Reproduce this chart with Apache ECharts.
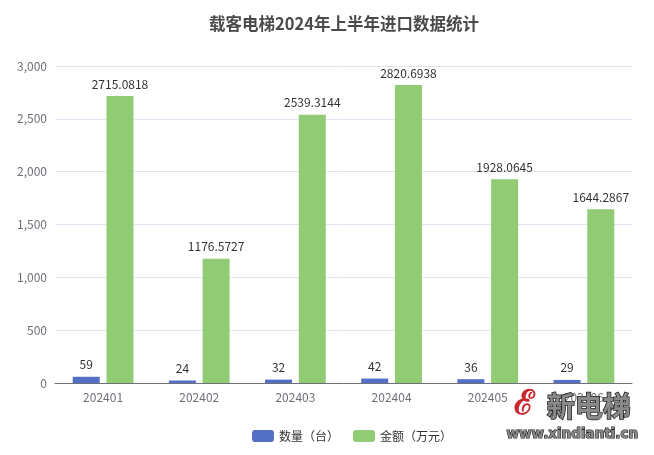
<!DOCTYPE html>
<html><head><meta charset="utf-8">
<script src="https://cdn.jsdelivr.net/npm/echarts@6/dist/echarts.min.js"></script>
<style>html,body{margin:0;padding:0;background:#fff}#c{width:654px;height:455px}</style>
</head><body><div id="c"></div>
<script>
const categories = ['202401','202402','202403','202404','202405','202406'];
const quantity = [59, 24, 32, 42, 36, 29];
const amount = [2715.0818, 1176.5727, 2539.3144, 2820.6938, 1928.0645, 1644.2867];
const seriesNames = ['数量（台）', '金额（万元）'];
const titleText = '载客电梯2024年上半年进口数据统计';
const yTicks = { min: 0, max: 3000, interval: 500 };

const FONT = "'Noto Sans CJK SC', 'Microsoft YaHei', sans-serif";
const chart = echarts.init(document.getElementById('c'));
chart.setOption({
  animation: false,
  textStyle: { fontFamily: FONT },
  title: { text: titleText, left: 204, top: 10, textStyle: { fontSize: 16.5, fontWeight: 'bold', color: '#4a4a4a', fontFamily: FONT } },
  legend: { left: 247, top: 425, itemWidth: 22, itemHeight: 12, itemGap: 14, textStyle: { color: '#333', fontSize: 12, fontFamily: FONT }, data: seriesNames },
  grid: { left: 55, right: 22, top: 66, bottom: 72 },
  xAxis: { type: 'category', data: categories, axisLine: { lineStyle: { color: '#6E7079' } }, axisLabel: { color: '#6E7079', fontSize: 12 } },
  yAxis: { type: 'value', min: yTicks.min, max: yTicks.max, interval: yTicks.interval,
    axisLabel: { color: '#6E7079', fontSize: 12, formatter: v => v.toLocaleString('en-US') },
    splitLine: { lineStyle: { color: '#E0E6F1' } } },
  series: [
    { name: seriesNames[0], type: 'bar', data: quantity, barWidth: 27, barGap: '25%', itemStyle: { color: '#5470c6' },
      label: { show: true, position: 'top', distance: 6, color: '#333', fontSize: 12 } },
    { name: seriesNames[1], type: 'bar', data: amount, barWidth: 27, itemStyle: { color: '#91cc75' },
      label: { show: true, position: 'top', distance: 6, color: '#333', fontSize: 12 } }
  ],
  graphic: [
    { type: 'text', left: 546, top: 392, z: 100, style: { text: '新电梯', fontSize: 28, fontWeight: 'bold', fontFamily: FONT, fill: '#8a8a8a', stroke: '#222', lineWidth: 1.5 } },
    { type: 'text', left: 506, top: 427, z: 100, style: { text: 'www.xindianti.cn', fontSize: 13.5, fontWeight: 'bold', fontFamily: 'DejaVu Sans', fill: '#888', stroke: '#222', lineWidth: 1.2 } },
    { type: 'text', left: 514, top: 388, z: 100, style: { text: 'ℰ', fontSize: 34, fontWeight: 'bold', fontFamily: 'DejaVu Serif', fill: '#c8282d' } }
  ]
});
</script></body></html>
